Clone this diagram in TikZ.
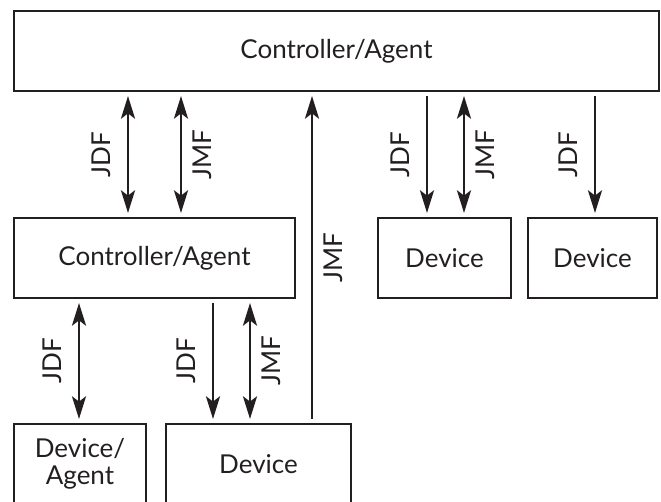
\documentclass[tikz,border=0pt]{standalone}
\usepackage{fontspec}
\setmainfont{Lato}
\usetikzlibrary{arrows.meta}
\definecolor{ink}{HTML}{231F20}
\tikzset{
  box/.style={draw=ink, line width=2.2pt, rectangle, inner sep=0pt, outer sep=0pt,
              font=\fontsize{19.5}{22}\selectfont, text=ink, align=center},
  conn/.style={draw=ink, line width=2.2pt, shorten <=3.75pt, shorten >=3.75pt},
  tip/.tip={Stealth[length=17pt,width=10.5pt,inset=4pt]},
  lblL/.style={xshift=-20.25pt, rotate=90, font=\fontsize{19.5}{22}\selectfont, text=ink, inner sep=0pt},
  lblR/.style={xshift=15.75pt, rotate=90, font=\fontsize{19.5}{22}\selectfont, text=ink, inner sep=0pt}
}
\begin{document}
\begin{tikzpicture}[x=0.75pt, y=-0.75pt]
\path[use as bounding box, clip] (0,0) rectangle (661,502);
% boxes
\node[box, minimum width=645*0.75pt, minimum height=80*0.75pt] (top) at (336.5,51) {Controller/Agent};
\node[box, minimum width=281*0.75pt, minimum height=80*0.75pt] (mid) at (154.5,258) {Controller/Agent};
\node[box, minimum width=133*0.75pt, minimum height=80*0.75pt] (dev1) at (444.5,258) {Device};
\node[box, minimum width=129*0.75pt, minimum height=80*0.75pt] (dev2) at (592.5,258) {Device};
\node[box, minimum width=132*0.75pt, minimum height=80*0.75pt] (da) at (80,464) {};
\node[box, draw=none, font=\fontsize{19.5}{20}\selectfont] (datext) at (da.center) {Device/\\Agent};
\node[box, minimum width=185*0.75pt, minimum height=80*0.75pt] (dev3) at (258.5,464) {Device};
% x positions
\coordinate (a1) at (128,0);
\coordinate (a2) at (181,0);
\coordinate (a3) at (312,0);
\coordinate (a4) at (427,0);
\coordinate (a5) at (464,0);
\coordinate (a6) at (595,0);
\coordinate (b1) at (79,0);
\coordinate (b2) at (213,0);
\coordinate (b3) at (250,0);
% top level connectors
\draw[conn, tip-tip] (top.south -| a1) -- node[lblL]{JDF} (mid.north -| a1);
\draw[conn, tip-tip] (top.south -| a2) -- node[lblR]{JMF} (mid.north -| a2);
\draw[conn, tip-] (top.south -| a3) -- node[lblR, pos=0.5]{JMF} (dev3.north -| a3);
\draw[conn, -tip] (top.south -| a4) -- node[lblL]{JDF} (dev1.north -| a4);
\draw[conn, tip-tip] (top.south -| a5) -- node[lblR]{JMF} (dev1.north -| a5);
\draw[conn, -tip] (top.south -| a6) -- node[lblL]{JDF} (dev2.north -| a6);
% lower connectors
\draw[conn, tip-tip] (mid.south -| b1) -- node[lblL]{JDF} (da.north -| b1);
\draw[conn, -tip] (mid.south -| b2) -- node[lblL]{JDF} (dev3.north -| b2);
\draw[conn, tip-tip] (mid.south -| b3) -- node[lblR]{JMF} (dev3.north -| b3);
\end{tikzpicture}
\end{document}
